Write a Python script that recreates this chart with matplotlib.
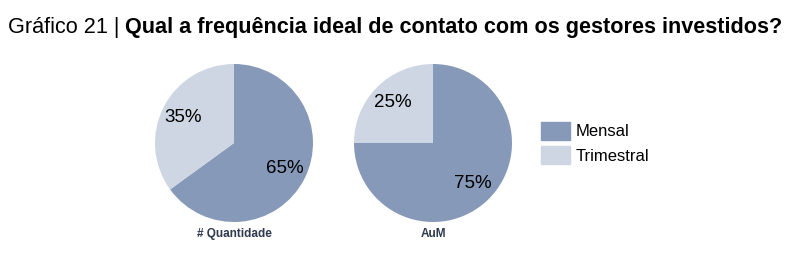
import matplotlib.pyplot as plt
from matplotlib.patches import Patch

plt.rcParams['font.family'] = ['Liberation Sans', 'DejaVu Sans']

categories = ["Mensal", "Trimestral"]
quantidade = [65, 35]
aum = [75, 25]
panel_titles = ["# Quantidade", "AuM"]
colors = ["#8799b9", "#cfd6e3"]

W, H = 810, 273
fig = plt.figure(figsize=(W / 100, H / 100), dpi=100)

def px_axes(cx, cy, r):
    # axes square around a pie centre given in pixel coords (y from top)
    return fig.add_axes([(cx - r) / W, (H - cy - r) / H, 2 * r / W, 2 * r / H])

for (cx, vals, name) in [(234, quantidade, panel_titles[0]), (433, aum, panel_titles[1])]:
    ax = px_axes(cx, 143, 79)
    ax.pie(vals, colors=colors, startangle=90, counterclock=False,
           autopct='%d%%', pctdistance=0.72,
           textprops=dict(fontsize=13.5, color='black'),
           wedgeprops=dict(linewidth=0))
    ax.set_xlim(-1, 1)
    ax.set_ylim(-1, 1)
    ax.set_aspect('equal')
    fig.text(cx / W, 1 - 234 / H, name, ha='center', va='center',
             fontsize=8.5, fontweight='bold', color='#2d3a4f')

handles = [Patch(color=c, label=l) for c, l in zip(colors, categories)]
fig.legend(handles=handles, loc='upper left', bbox_to_anchor=(526 / W, 1 - 107 / H),
           frameon=False, fontsize=12, handlelength=1.75, handleheight=1.25,
           handletextpad=0.3, labelspacing=0.4)

# title: regular prefix followed by bold question
t1 = fig.text(8 / W, 1 - 28 / H, "Gráfico 21 | ", fontsize=15.6, va='center', ha='left')
fig.canvas.draw()
bb = t1.get_window_extent()
fig.text(bb.x1 / W, 1 - 28 / H, "Qual a frequência ideal de contato com os gestores investidos?",
         fontsize=15.6, fontweight='bold', va='center', ha='left')

fig.savefig("out.png", dpi=100)
